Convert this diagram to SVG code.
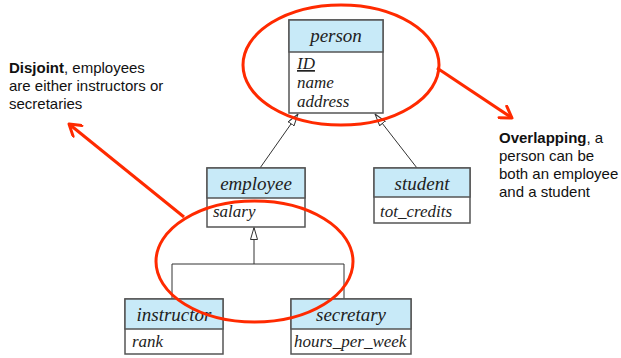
<svg xmlns="http://www.w3.org/2000/svg" width="621" height="358" viewBox="0 0 621 358">
<defs>
<style>
.hdr{fill:#c8eaf8;stroke:#555;stroke-width:1.5}
.body{fill:#fff;stroke:#555;stroke-width:1.5}
.t{font-family:"Liberation Serif",serif;font-style:italic;fill:#222}
.h{font-size:19px;text-anchor:middle}
.a{font-size:17px}
.note{font-family:"Liberation Sans",Arial,sans-serif;font-size:15px;fill:#111}
.ln{stroke:#333;stroke-width:1;fill:none}
.red{stroke:#ff2a00;stroke-width:3;fill:none}
</style>
<marker id="tri" markerWidth="13" markerHeight="8" refX="12.5" refY="4" orient="auto" markerUnits="userSpaceOnUse" viewBox="0 0 13 8">
<path d="M0.5,0.5 L12.5,4 L0.5,7.5 Z" fill="#fff" stroke="#333" stroke-width="1"/>
</marker>
<marker id="rarr" markerWidth="16" markerHeight="16" refX="14" refY="8" orient="auto" markerUnits="userSpaceOnUse">
<path d="M3,1 L14,8 L3,15" fill="none" stroke="#ff2a00" stroke-width="3" stroke-linecap="round" stroke-linejoin="round"/>
</marker>
</defs>
<rect width="621" height="358" fill="#fff"/>
<g id="connectors">
<line class="ln" x1="260" y1="168" x2="298" y2="114" marker-end="url(#tri)"/>
<line class="ln" x1="417" y1="168" x2="375" y2="114" marker-end="url(#tri)"/>
<polyline class="ln" points="172,299 172,264 344,264 344,299"/>
<line class="ln" x1="254" y1="264" x2="254" y2="227.5" marker-end="url(#tri)"/>
</g>
<g id="person">
<rect class="body" x="289" y="20" width="94" height="93"/>
<rect class="hdr" x="289" y="20" width="94" height="32"/>
<text class="t h" x="336" y="42">person</text>
<text class="t a" x="297" y="69" text-decoration="underline">ID</text>
<text class="t a" x="297" y="88">name</text>
<text class="t a" x="297" y="107">address</text>
</g>
<g id="employee">
<rect class="body" x="207" y="168" width="98" height="59"/>
<rect class="hdr" x="207" y="168" width="98" height="30"/>
<text class="t h" x="256" y="190">employee</text>
<text class="t a" x="213" y="217">salary</text>
</g>
<g id="student">
<rect class="body" x="374" y="168" width="96" height="55"/>
<rect class="hdr" x="374" y="168" width="96" height="29"/>
<text class="t h" x="422" y="190">student</text>
<text class="t a" x="380" y="217">tot_credits</text>
</g>
<g id="instructor">
<rect class="body" x="125" y="299" width="98" height="55"/>
<rect class="hdr" x="125" y="299" width="98" height="30"/>
<text class="t h" x="174" y="321">instructor</text>
<text class="t a" x="132" y="347">rank</text>
</g>
<g id="secretary">
<rect class="body" x="291" y="299" width="120" height="55"/>
<rect class="hdr" x="291" y="299" width="120" height="30"/>
<text class="t h" x="351" y="321">secretary</text>
<text class="t a" x="294" y="347">hours_per_week</text>
</g>
<g id="overlap-annotation">
<ellipse class="red" cx="341" cy="65" rx="98" ry="60"/>
<line class="red" x1="437" y1="68" x2="512" y2="118" marker-end="url(#rarr)"/>
<text class="note" x="499" y="143"><tspan font-weight="bold">Overlapping</tspan>, a</text>
<text class="note" x="499" y="161">person can be</text>
<text class="note" x="499" y="179">both an employee</text>
<text class="note" x="499" y="197">and a student</text>
</g>
<g id="disjoint-annotation">
<ellipse class="red" cx="254.5" cy="261.5" rx="98.5" ry="60.5"/>
<line class="red" x1="184" y1="217" x2="69" y2="124" marker-end="url(#rarr)"/>
<text class="note" x="9" y="73"><tspan font-weight="bold">Disjoint</tspan>, employees</text>
<text class="note" x="9" y="91">are either instructors or</text>
<text class="note" x="9" y="109">secretaries</text>
</g>
</svg>
